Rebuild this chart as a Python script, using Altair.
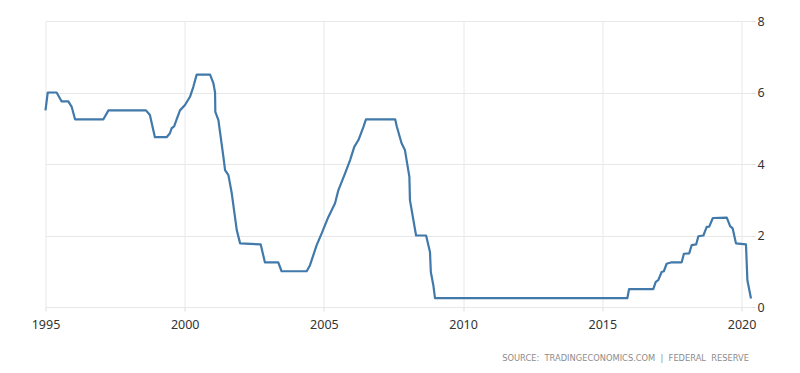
import altair as alt
import pandas as pd

# Decimal years and the rate at those corner points
years = [
    1995.00, 1995.08, 1995.40, 1995.58, 1995.82, 1995.94, 1996.06,
    1997.08, 1997.26, 1998.61, 1998.75, 1998.93,
    1999.35, 1999.47, 1999.53, 1999.62, 1999.71, 1999.83, 2000.01, 2000.19, 2000.31, 2000.43,
    2000.91, 2001.03, 2001.09, 2001.10, 2001.21, 2001.39, 2001.45, 2001.57, 2001.69, 2001.87, 2001.99,
    2002.73, 2002.88, 2003.36, 2003.48,
    2004.38, 2004.50, 2004.56, 2004.74, 2004.92, 2005.16, 2005.40, 2005.52, 2005.76, 2005.94,
    2006.09, 2006.24, 2006.42, 2006.51,
    2007.56, 2007.62, 2007.79, 2007.91, 2008.07, 2008.09, 2008.31, 2008.67, 2008.81, 2008.84, 2008.93, 2008.99,
    2015.90, 2015.96, 2016.83, 2016.92, 2017.01, 2017.13, 2017.21, 2017.31, 2017.49,
    2017.85, 2017.93, 2018.12, 2018.21, 2018.37, 2018.45, 2018.63, 2018.75, 2018.84, 2018.97,
    2019.47, 2019.59, 2019.68, 2019.80, 2020.16, 2020.21, 2020.34,
]
rates = [
    5.50, 6.00, 6.00, 5.75, 5.75, 5.60, 5.25,
    5.25, 5.50, 5.50, 5.37, 4.75,
    4.75, 4.86, 5.00, 5.05, 5.25, 5.50, 5.65, 5.88, 6.16, 6.50,
    6.50, 6.26, 6.00, 5.46, 5.23, 4.20, 3.83, 3.69, 3.18, 2.15, 1.78,
    1.75, 1.25, 1.25, 1.00,
    1.00, 1.17, 1.31, 1.73, 2.06, 2.52, 2.90, 3.27, 3.74, 4.11,
    4.48, 4.67, 5.04, 5.25,
    5.25, 5.04, 4.58, 4.39, 3.64, 2.99, 2.00, 2.00, 1.54, 0.98, 0.61, 0.25,
    0.25, 0.50, 0.50, 0.70, 0.75, 0.98, 1.00, 1.21, 1.25,
    1.25, 1.49, 1.50, 1.73, 1.75, 1.98, 2.00, 2.24, 2.25, 2.49,
    2.50, 2.26, 2.20, 1.78, 1.75, 0.75, 0.24,
]
x_ticks = [1995, 2000, 2005, 2010, 2015, 2020]
y_ticks = [0, 2, 4, 6, 8]
source_text = "SOURCE:\u00a0\u00a0TRADINGECONOMICS.COM\u00a0\u00a0|\u00a0\u00a0FEDERAL\u00a0\u00a0RESERVE"

df = pd.DataFrame({"year": years, "rate": rates})

chart = (
    alt.Chart(df)
    .mark_line(color="#4079aa", strokeWidth=2.2, strokeJoin="round")
    .encode(
        x=alt.X(
            "year:Q",
            scale=alt.Scale(domain=[1995, 2020.34], nice=False, zero=False),
            axis=alt.Axis(
                values=x_ticks, format="d", title=None, domain=False,
                grid=True, gridColor="#e8e8e8", gridWidth=1,
                tickColor="#dddddd", tickSize=4, labelPadding=7,
                labelFlush=False,
                labelFontSize=12.5, labelColor="#333333", labelFont="Noto Sans",
            ),
        ),
        y=alt.Y(
            "rate:Q",
            scale=alt.Scale(domain=[0, 8], nice=False),
            axis=alt.Axis(
                orient="right", values=y_ticks, title=None, domain=False,
                grid=True, gridColor="#e8e8e8", gridWidth=1,
                tickColor="#dddddd", tickSize=4, labelPadding=2,
                labelFlush=False,
                labelFontSize=12.5, labelColor="#333333", labelFont="Noto Sans",
            ),
        ),
    )
    .properties(
        width=705.5,
        height=286,
        autosize=alt.AutoSizeParams(type="none"),
        padding={"left": 37.5, "top": 13, "right": 41, "bottom": 58},
        title=alt.TitleParams(
            text=source_text, orient="bottom", anchor="end", frame="group",
            fontSize=8.3, font="DejaVu Sans", fontWeight="normal",
            color="#8c8c8c", offset=23, dx=-2,
        ),
    )
    .configure_view(stroke=None)
)

chart.save("out.html", embed_options={"renderer": "svg", "actions": False})
